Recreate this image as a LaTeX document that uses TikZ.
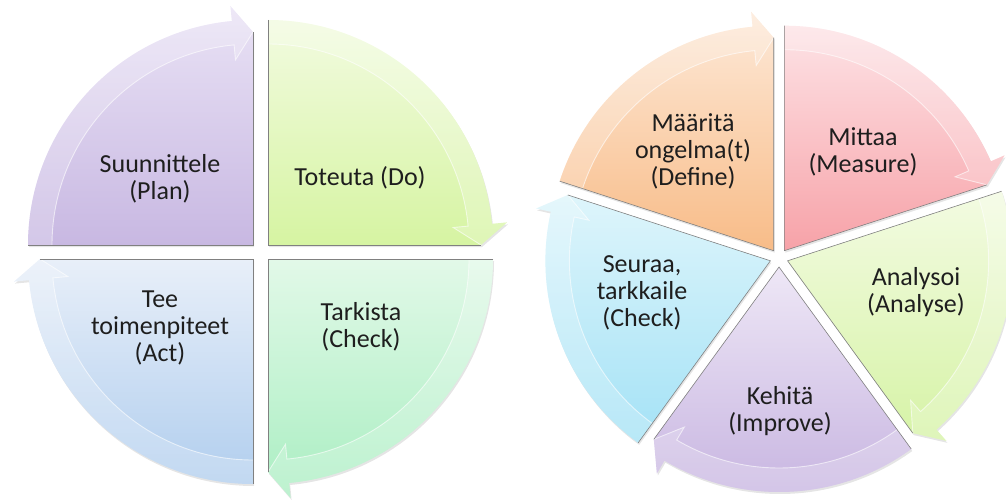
\documentclass[tikz,border=0pt]{standalone}
\usepackage{fontspec}
\setmainfont{Carlito}
\usepackage{tikz}
\tikzset{>=latex}
\definecolor{labeltext}{HTML}{1E1E1E}
\definecolor{planlight}{HTML}{E9E2F5}
\definecolor{plandark}{HTML}{C8B8E2}
\definecolor{dolight}{HTML}{F2FBE0}
\definecolor{dodark}{HTML}{D6F4A2}
\definecolor{checklight}{HTML}{E2F9E8}
\definecolor{checkdark}{HTML}{AAEEC2}
\definecolor{actlight}{HTML}{E8EFF9}
\definecolor{actdark}{HTML}{B1CEEE}
\definecolor{definelight}{HTML}{FDE9D8}
\definecolor{definedark}{HTML}{F8BC88}
\definecolor{measurelight}{HTML}{FDE3E6}
\definecolor{measuredark}{HTML}{F7A2A8}
\definecolor{analyselight}{HTML}{F3FBE2}
\definecolor{analysedark}{HTML}{D6F3A6}
\definecolor{improvelight}{HTML}{EEE7F6}
\definecolor{improvedark}{HTML}{C6B3E0}
\definecolor{followlight}{HTML}{DEF5FB}
\definecolor{followdark}{HTML}{A4E2F6}

\tikzset{phasetext/.style={font=\fontsize{26}{27}\selectfont, text=labeltext, align=center}}

% ring sizes in pt
\newcommand{\outR}{225}
\newcommand{\inR}{201}
\newcommand{\midR}{213}
\newcommand{\headin}{186}
\newcommand{\headout}{240}
\newcommand{\headlen}{5.4}

% apex, start angle, end angle, top colour, bottom colour
\newcommand{\phaseseg}[5]{%
  \begin{scope}[shift={#1}]
    \fill[black, opacity=0.1, shift={(1,-2)}] (0,0) -- (#2:\outR) arc[start angle=#2, end angle=#3+\headlen, radius=\outR] -- (#3+\headlen:\headout) -- (#3:\midR) -- cycle;
    \shade[top color=#4, bottom color=#5] (0,0) -- (#2:\outR) arc[start angle=#2, end angle=#3+\headlen, radius=\outR] -- (#3+\headlen:\headout) -- (#3:\midR) -- cycle;
    \fill[white, opacity=0.22] (#2:\outR) arc[start angle=#2, end angle=#3+\headlen, radius=\outR] -- (#3+\headlen:\headout) -- (#3:\midR) -- (#3+\headlen:\headin) -- (#3+\headlen:\inR) arc[start angle=#3+\headlen, end angle=#2, radius=\inR] -- cycle;
    \draw[white, opacity=0.6, line width=0.9] (#3:\midR) -- (#3+\headlen:\headin) -- (#3+\headlen:\inR) arc[start angle=#3+\headlen, end angle=#2, radius=\inR];
    \draw[black!50, line width=0.6] (#2:\outR) -- (0,0) -- (#3:\midR);
  \end{scope}}

\begin{document}
\begin{tikzpicture}[x=1pt, y=1pt]
            \useasboundingbox (0,0) rectangle (1006,499);
            % PDCA
            \phaseseg{(253,254)}{180}{90}{planlight}{plandark}
            \phaseseg{(268,254)}{90}{0}{dolight}{dodark}
            \phaseseg{(268,240)}{0}{-90}{checklight}{checkdark}
            \phaseseg{(253,240)}{-90}{-180}{actlight}{actdark}
            \node[phasetext] (plan) at (160,320) {Suunnittele\\(Plan)};
            \node[phasetext] (do) at (360,321) {Toteuta (Do)};
            \node[phasetext] (check) at (361,172) {Tarkista\\(Check)};
            \node[phasetext] (act) at (160,171) {Tee\\toimenpiteet\\(Act)};
            % DMAIC
            \phaseseg{(773.7,248.3)}{162}{90}{definelight}{definedark}
            \phaseseg{(784.3,248.3)}{90}{18}{measurelight}{measuredark}
            \phaseseg{(787.6,238.2)}{18}{-54}{analyselight}{analysedark}
            \phaseseg{(779,232)}{-54}{-126}{improvelight}{improvedark}
            \phaseseg{(770.4,238.2)}{-126}{-198}{followlight}{followdark}
            \node[phasetext] (define) at (693,348) {Määritä\\ongelma(t)\\(Define)};
            \node[phasetext] (measure) at (863,347) {Mittaa\\(Measure)};
            \node[phasetext] (analyse) at (916,207) {Analysoi\\(Analyse)};
            \node[phasetext] (improve) at (780,88) {Kehitä\\(Improve)};
            \node[phasetext] (follow) at (642,206) {Seuraa,\\tarkkaile\\(Check)};
        \end{tikzpicture}
\end{document}
